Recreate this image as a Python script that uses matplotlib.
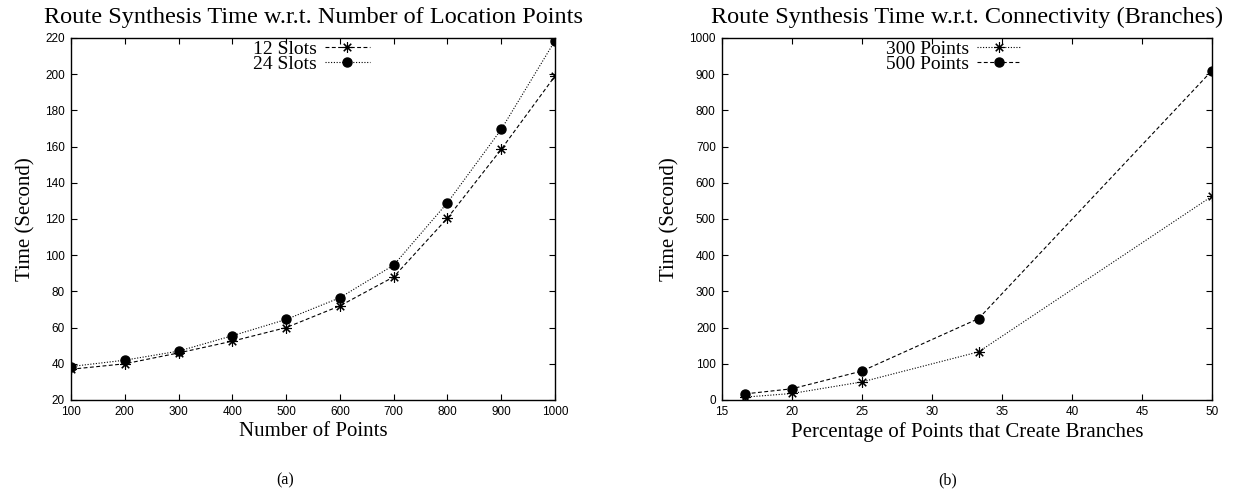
import matplotlib
matplotlib.use("Agg")
import matplotlib.pyplot as plt

# ---- data ----
points = [100, 200, 300, 400, 500, 600, 700, 800, 900, 1000]
slots12 = [37, 40, 46, 52.5, 60, 72, 88, 120.5, 158.5, 199]
slots24 = [38.5, 42, 47, 55.5, 64.5, 76.5, 94.5, 129, 169.5, 218.5]

pct = [16.67, 20, 25, 33.33, 50]
pts300 = [8, 18, 50, 133, 563]
pts500 = [17, 31, 80, 225, 910]

left_xticks = [100, 200, 300, 400, 500, 600, 700, 800, 900, 1000]
left_yticks = [20, 40, 60, 80, 100, 120, 140, 160, 180, 200, 220]
right_xticks = [15, 20, 25, 30, 35, 40, 45, 50]
right_yticks = [0, 100, 200, 300, 400, 500, 600, 700, 800, 900, 1000]

SERIF = "Liberation Serif"
SANS = "Liberation Sans"

fig = plt.figure(figsize=(12.36, 4.95), dpi=100)
W, H = 1236, 495

def make_axes(x0, x1, y0, y1):
    return fig.add_axes([x0 / W, 1 - y1 / H, (x1 - x0) / W, (y1 - y0) / H])

axL = make_axes(71, 555, 38, 400)
axR = make_axes(722, 1212, 38, 400)

dashed = (0, (3.5, 2.2))
dotted = (0, (1.0, 1.5))
star = (8, 2, 0)

def style(ax, xt, yt, xl, yl):
    ax.set_xticks(xt)
    ax.set_yticks(yt)
    ax.set_xlim(xt[0], xt[-1])
    ax.set_ylim(yt[0], yt[-1])
    ax.tick_params(direction="in", length=4, width=0.8, top=True, right=True,
                   labelsize=8.5, pad=4.5)
    for lab in ax.get_xticklabels() + ax.get_yticklabels():
        lab.set_family(SANS)
    for s in ax.spines.values():
        s.set_linewidth(1.0)
    ax.set_xlabel(xl, family=SERIF, fontsize=15, labelpad=3)
    ax.set_ylabel(yl, family=SERIF, fontsize=15, labelpad=7)

# left panel
axL.plot(points, slots12, color="black", lw=0.8, linestyle=dashed,
         marker=star, markersize=7.5, markeredgewidth=0.8, label="12 Slots")
axL.plot(points, slots24, color="black", lw=0.8, linestyle=dotted,
         marker="o", markersize=6.5, label="24 Slots")
style(axL, left_xticks, left_yticks, "Number of Points", "Time (Second)")
axL.set_title("Route Synthesis Time w.r.t. Number of Location Points",
              family=SERIF, fontsize=17.5, pad=11)
leg_kw = dict(loc="upper right", frameon=False, markerfirst=False, numpoints=1,
              handlelength=2.3, handletextpad=0.4, labelspacing=-0.15,
              borderpad=0.1, prop={"family": SERIF, "size": 14})
axL.legend(bbox_to_anchor=(0.641, 1.025), **leg_kw)

# right panel
axR.plot(pct, pts300, color="black", lw=0.8, linestyle=dotted,
         marker=star, markersize=7.5, markeredgewidth=0.8, label="300 Points")
axR.plot(pct, pts500, color="black", lw=0.8, linestyle=dashed,
         marker="o", markersize=6.5, label="500 Points")
style(axR, right_xticks, right_yticks, "Percentage of Points that Create Branches",
      "Time (Second)")
axR.set_title("Route Synthesis Time w.r.t. Connectivity (Branches)",
              family=SERIF, fontsize=17.5, pad=11)
axR.legend(bbox_to_anchor=(0.635, 1.025), **leg_kw)

fig.text(285 / W, 1 - 480 / H, "(a)", family=SERIF, fontsize=11.5,
         ha="center", va="center")
fig.text(948 / W, 1 - 480 / H, "(b)", family=SERIF, fontsize=11.5,
         ha="center", va="center")

fig.savefig("out.png", dpi=100)
